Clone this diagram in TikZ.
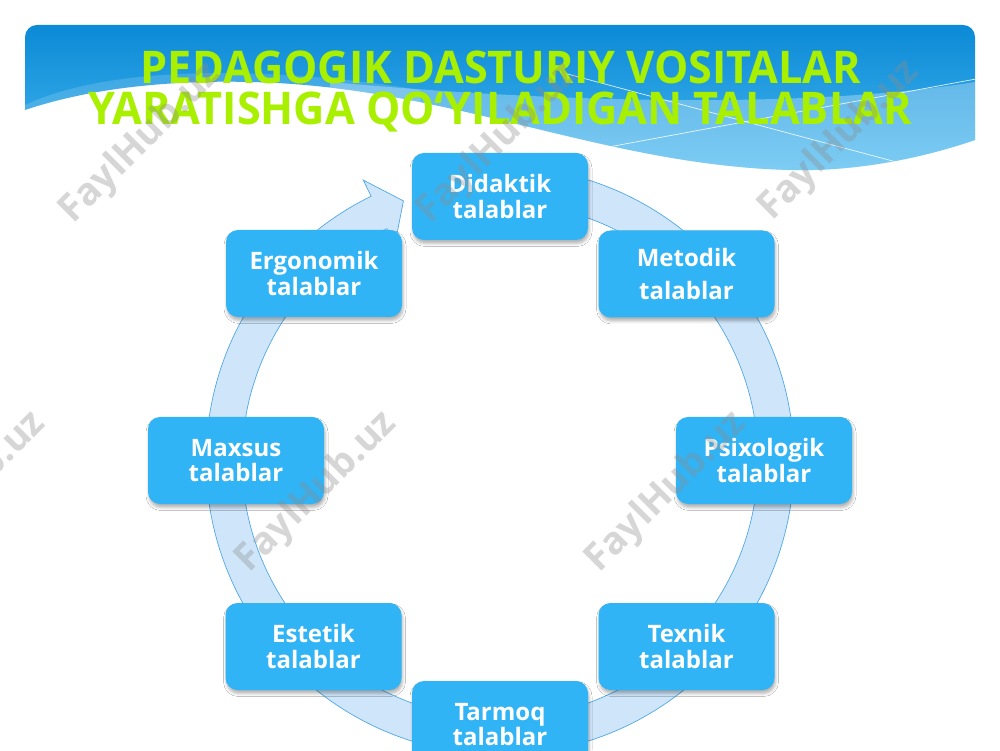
\documentclass[tikz,border=0pt]{standalone}
\usepackage{fontspec}
\usepackage{graphicx}
\setmainfont{Open Sans}
\usetikzlibrary{shadows.blur,calc}
\definecolor{boxblue}{RGB}{49,180,245}
\definecolor{bandfill}{RGB}{207,230,250}
\definecolor{bandline}{RGB}{80,168,230}
\definecolor{titlegreen}{RGB}{168,240,0}
\definecolor{hdrtop}{RGB}{12,138,214}
\definecolor{hdrbot}{RGB}{70,184,240}
\begin{document}
\begin{tikzpicture}[x=1pt,y=1pt,
 reqbox/.style={rectangle, rounded corners=12pt, fill=boxblue, minimum width=176pt, minimum height=87pt, text=white, font=\bfseries\fontsize{24}{25.5}\selectfont, align=center, inner sep=0pt, blur shadow={shadow xshift=1pt, shadow yshift=-3.5pt, shadow blur radius=3pt, shadow opacity=30}},
 wmark/.style={rotate=45, text=black!45, opacity=0.35, font=\bfseries\fontsize{38}{40}\selectfont, inner sep=0pt},
 titletext/.style={text=titlegreen, font=\bfseries\fontsize{45}{48}\selectfont, anchor=base, inner sep=0pt}]

\useasboundingbox (0,0) rectangle (1000,750);
\fill[white] (0,0) rectangle (1000,750);

% header band
\begin{scope}
\clip (25,640) -- (25,713) arc[start angle=180,end angle=90,radius=12] -- (963,725) arc[start angle=90,end angle=0,radius=12] -- (975,610) .. controls (940,598) and (870,578) .. (790,580) .. controls (600,585) and (450,664) .. (250,668) .. controls (170,670) and (90,662) .. (25,640) -- cycle;
\shade[top color=hdrtop, bottom color=hdrbot] (25,575) rectangle (975,725);
\fill[white,opacity=0.3] (330,668) .. controls (550,648) and (800,640) .. (975,668) -- (975,560) -- (330,560) -- cycle;
\fill[white,opacity=0.15] (25,645) .. controls (120,690) and (300,680) .. (420,660) -- (420,600) -- (25,600) -- cycle;
\draw[white, line width=0.7pt, opacity=0.85] (560,594) -- (976,671);
\draw[white, line width=0.7pt, opacity=0.85] (560,678) -- (900,587);
\end{scope}

% circular arrow band
\begin{scope}[shift={(500,289.5)}]
\draw[fill=bandfill, draw=bandline, line width=0.7pt] (95:294) arc[start angle=95,end angle=-244,radius=294] -- (-244:312) -- (-249.6:277) -- (-244:240) -- (-244:258) arc[start angle=-244,end angle=95,radius=258] -- cycle;
\end{scope}

% nodes
\node[reqbox] (didaktik) at (500,553.5) {Didaktik\\talablar};
\node[reqbox] (metodik) at (686.5,476) {Metodik\\[8pt]talablar};
\node[reqbox] (psixologik) at (764,289.5) {Psixologik\\talablar};
\node[reqbox] (texnik) at (686.5,103.5) {Texnik\\talablar};
\node[reqbox] (tarmoq) at (500,25.5) {Tarmoq\\talablar};
\node[reqbox] (estetik) at (313.5,103.5) {Estetik\\talablar};
\node[reqbox] (maxsus) at (236,289.5) {Maxsus\\talablar};
\node[reqbox] (ergonomik) at (314,476.5) {Ergonomik\\talablar};

% title
\node[titletext] (t1) at (501,666) {\scalebox{0.96}[1]{PEDAGOGIK DASTURIY VOSITALAR}};
\node[titletext] (t2) at (500,625) {\scalebox{0.96}[1]{YARATISHGA QO‘YILADIGAN TALABLAR}};

% watermarks
\node[wmark] (wm1) at (141,607) {FaylHub.uz};
\node[wmark] (wm2) at (498,607) {FaylHub.uz};
\node[wmark] (wm3) at (840,610) {FaylHub.uz};
\node[wmark] (wm4) at (-34,258) {FaylHub.uz};
\node[wmark] (wm5) at (317,258) {FaylHub.uz};
\node[wmark] (wm6) at (667,258) {FaylHub.uz};
\end{tikzpicture}
\end{document}
